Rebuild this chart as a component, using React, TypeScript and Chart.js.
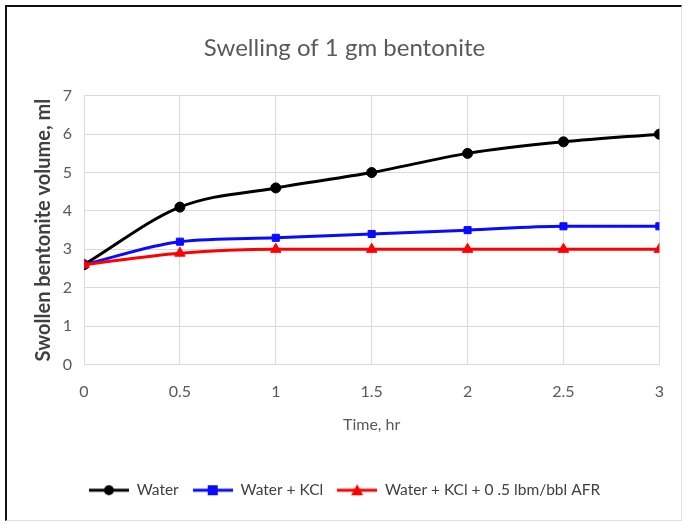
import React, { useEffect, useRef } from "react";
import { Chart, registerables } from "chart.js";

Chart.register(...registerables);

const times = [0, 0.5, 1, 1.5, 2, 2.5, 3];
const water = [2.6, 4.1, 4.6, 5.0, 5.5, 5.8, 6.0];
const waterKcl = [2.6, 3.2, 3.3, 3.4, 3.5, 3.6, 3.6];
const waterKclAfr = [2.6, 2.9, 3.0, 3.0, 3.0, 3.0, 3.0];
const seriesNames = ["Water", "Water + KCl", "Water + KCl + 0 .5 lbm/bbl AFR"];

const FONT = "Lato, 'Open Sans', sans-serif";
const TXT = "#595959";

function legendImage(color: string, style: string) {
  const c = document.createElement("canvas");
  c.width = 40;
  c.height = 16;
  const ctx = c.getContext("2d")!;
  ctx.strokeStyle = color;
  ctx.fillStyle = color;
  ctx.lineWidth = 3;
  ctx.beginPath();
  ctx.moveTo(0, 8);
  ctx.lineTo(40, 8);
  ctx.stroke();
  ctx.beginPath();
  if (style === "circle") {
    ctx.arc(20, 8, 5, 0, Math.PI * 2);
  } else if (style === "rect") {
    ctx.rect(15, 3, 10, 10);
  } else {
    ctx.moveTo(20, 2);
    ctx.lineTo(26, 13);
    ctx.lineTo(14, 13);
    ctx.closePath();
  }
  ctx.fill();
  return c;
}

export default function App() {
  const ref = useRef<HTMLCanvasElement>(null);
  useEffect(() => {
    document.body.style.margin = "0";
    const mk = (vals: number[]) => times.map((t, i) => ({ x: t, y: vals[i] }));
    const colors = ["#000000", "#0a0aff", "#ff0000"];
    const styles = ["circle", "rect", "triangle"];
    const radii = [5, 5, 6];
    const sets = [water, waterKcl, waterKclAfr];
    const chart = new Chart(ref.current!, {
      type: "line",
      data: {
        datasets: sets.map((v, i) => ({
          label: seriesNames[i],
          data: mk(v),
          borderColor: colors[i],
          backgroundColor: colors[i],
          pointBackgroundColor: colors[i],
          pointBorderColor: colors[i],
          pointStyle: styles[i] as any,
          pointRadius: radii[i],
          pointBorderWidth: 1,
          borderWidth: 3,
          tension: 0.4,
          cubicInterpolationMode: "monotone" as any,
          order: 2 - i,
        })),
      },
      options: {
        animation: false,
        responsive: false,
        layout: { padding: { left: 26, right: 19, top: 0, bottom: 13 } },
        plugins: {
          title: {
            display: true,
            text: "Swelling of 1 gm bentonite",
            color: TXT,
            font: { family: FONT, size: 24, weight: "normal" as any },
            padding: { top: 34, bottom: 33 },
          },
          legend: {
            position: "bottom",
            labels: {
              usePointStyle: true,
              pointStyleWidth: 40,
              boxHeight: 16,
              padding: 14,
              color: "#404040",
              font: { family: FONT, size: 15.5 },
              generateLabels: (ch: any) =>
                ch.data.datasets.map((d: any, i: number) => ({
                  text: d.label,
                  pointStyle: legendImage(colors[i], styles[i]),
                  fillStyle: colors[i],
                  strokeStyle: colors[i],
                  lineWidth: 0,
                  hidden: false,
                  datasetIndex: i,
                  fontColor: "#404040",
                })),
            },
          },
          tooltip: { enabled: false },
        },
        scales: {
          x: {
            type: "linear",
            min: 0,
            max: 3,
            ticks: {
              stepSize: 0.5,
              color: TXT,
              padding: 18,
              font: { family: FONT, size: 16 },
              callback: (v: any) => String(v),
            },
            grid: { color: "#d9d9d9", drawTicks: false, lineWidth: 1 },
            border: { color: "#d9d9d9" },
            title: {
              display: true,
              text: "Time, hr",
              color: TXT,
              font: { family: FONT, size: 16 },
              padding: { top: 0, bottom: 34 },
            },
            afterFit: (s: any) => {
              s.height = 104;
            },
          },
          y: {
            min: 0,
            max: 7,
            ticks: {
              stepSize: 1,
              color: TXT,
              padding: 12,
              font: { family: FONT, size: 16 },
            },
            grid: { color: "#d9d9d9", drawTicks: false, lineWidth: 1 },
            border: { color: "#d9d9d9" },
            title: {
              display: true,
              text: "Swollen bentonite volume, ml",
              color: "#404040",
              font: { family: FONT, size: 20, weight: "bold" as any },
              padding: { top: 6, bottom: 0 },
            },
            afterFit: (s: any) => {
              s.width = 58;
            },
          },
        },
      },
    });
    return () => chart.destroy();
  }, []);
  return (
    <div style={{ position: "relative", width: 682, height: 521, background: "#fff" }}>
      <canvas ref={ref} width={682} height={521} style={{ position: "absolute", left: 0, top: 0 }} />
      <div
        style={{
          position: "absolute",
          left: 5,
          top: 5,
          width: 674,
          height: 513,
          borderTop: "2px solid #111",
          borderLeft: "2px solid #111",
          borderRight: "1px solid #e0e0e0",
          borderBottom: "1px solid #e0e0e0",
          pointerEvents: "none",
        }}
      />
    </div>
  );
}
